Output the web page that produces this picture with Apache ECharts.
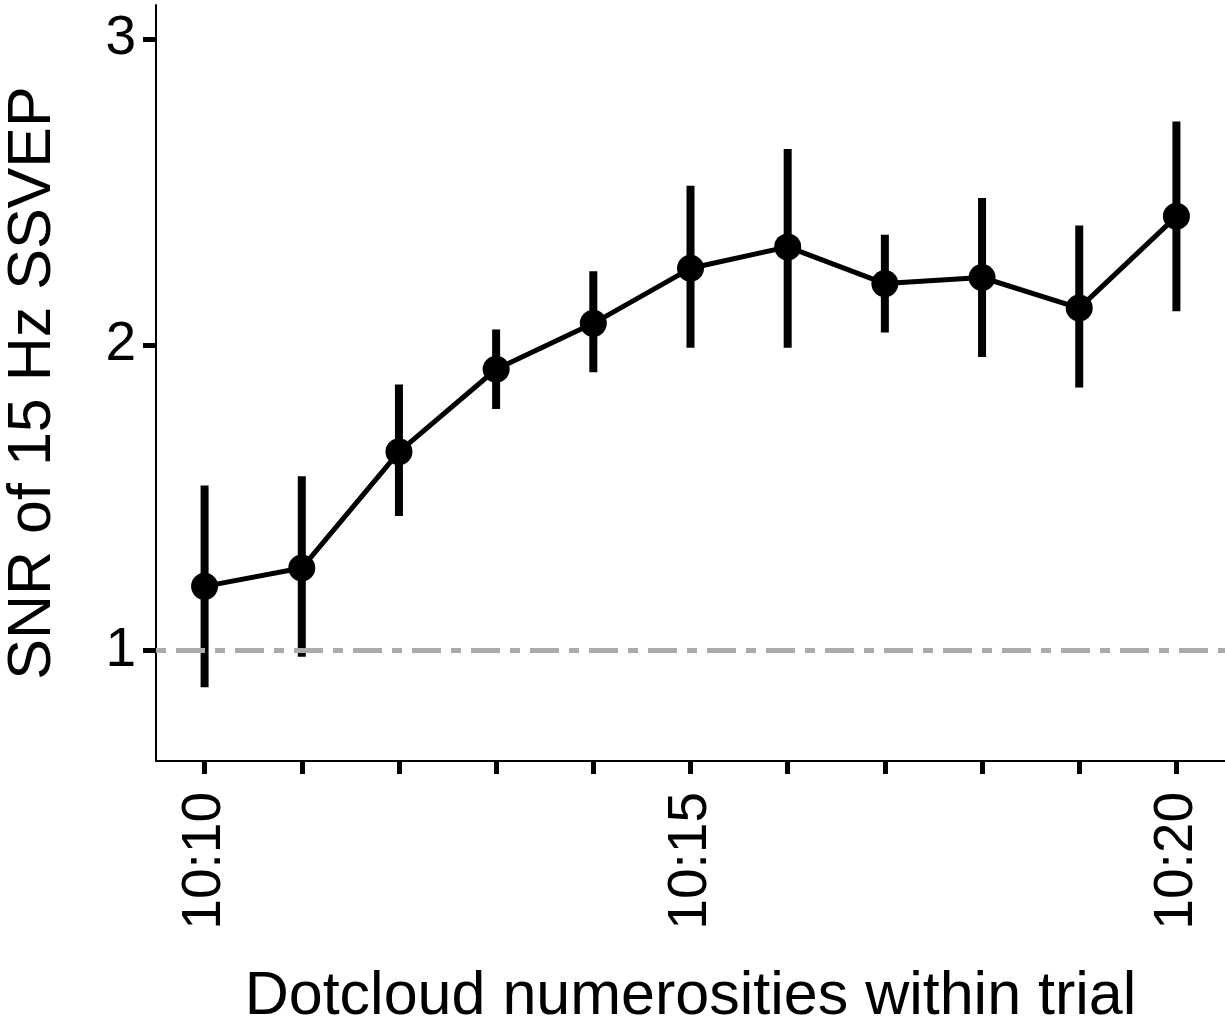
<!DOCTYPE html>
<html>
<head>
<meta charset="utf-8">
<script src="https://cdn.jsdelivr.net/npm/echarts@6/dist/echarts.min.js"></script>
<style>
  html, body { margin: 0; padding: 0; background: #fff; }
  #chart { width: 1225px; height: 1022px; }
</style>
</head>
<body>
<div id="chart"></div>
<script>
// numerosity ratios on the x axis
const categories = ['10:10', '10:11', '10:12', '10:13', '10:14', '10:15', '10:16', '10:17', '10:18', '10:19', '10:20']
// mean SNR and interval bounds
const snrMean = [1.21, 1.27, 1.65, 1.92, 2.07, 2.25, 2.32, 2.20, 2.22, 2.12, 2.42]
const snrLow = [0.88, 0.98, 1.44, 1.79, 1.91, 1.99, 1.99, 2.04, 1.96, 1.86, 2.11]
const snrHigh = [1.54, 1.57, 1.87, 2.05, 2.24, 2.52, 2.64, 2.36, 2.48, 2.39, 2.73]
const yTicks = [1, 2, 3]
const chanceLevel = 1

const font = 'Liberation Sans, Arial, Helvetica, sans-serif'
const chart = echarts.init(document.getElementById('chart'))

const option = {
  animation: false,
  backgroundColor: '#fff',
  grid: { left: 156, right: 0, top: 5, bottom: 261, containLabel: false, outerBoundsMode: 'none' },
  xAxis: {
    type: 'category',
    data: categories,
    boundaryGap: true,
    name: 'Dotcloud numerosities within trial',
    nameLocation: 'middle',
    nameGap: 206,
    nameTextStyle: { fontSize: 61, color: '#000', fontFamily: font },
    axisLine: { onZero: false, lineStyle: { color: '#000', width: 2 } },
    axisTick: { show: true, alignWithLabel: true, interval: 0, length: 13, lineStyle: { color: '#000', width: 5 } },
    axisLabel: {
      interval: (i) => i % 5 === 0,
      rotate: 90,
      margin: 31,
      fontSize: 55,
      color: '#000',
      fontFamily: font,
    },
    splitLine: { show: false },
  },
  yAxis: {
    type: 'value',
    min: 0.639,
    max: 3.111,
    name: 'SNR of 15 Hz SSVEP',
    nameLocation: 'middle',
    nameGap: 92,
    nameTextStyle: { fontSize: 61, color: '#000', fontFamily: font },
    axisLine: { show: true, lineStyle: { color: '#000', width: 2 } },
    axisTick: { show: true, customValues: yTicks, length: 13, lineStyle: { color: '#000', width: 5 } },
    axisLabel: { customValues: yTicks, margin: 20, fontSize: 55, color: '#000', fontFamily: font },
    splitLine: { show: false },
  },
  series: [
    {
      // dash-dot reference line at SNR = 1
      type: 'line',
      data: [],
      z: 1,
      markLine: {
        silent: true,
        symbol: 'none',
        label: { show: false },
        lineStyle: { color: '#ababab', width: 5, type: [29, 10, 10, 10], dashOffset: 39, cap: 'butt' },
        data: [{ yAxis: chanceLevel }],
      },
    },
    {
      type: 'custom',
      z: 2,
      data: categories.map((c, i) => [i, snrLow[i], snrHigh[i]]),
      encode: { x: 0, y: [1, 2] },
      renderItem(params, api) {
        const lo = api.coord([api.value(0), api.value(1)])
        const hi = api.coord([api.value(0), api.value(2)])
        return {
          type: 'line',
          shape: { x1: lo[0], y1: lo[1], x2: hi[0], y2: hi[1] },
          style: { stroke: '#000', lineWidth: 8 },
        }
      },
    },
    {
      type: 'line',
      z: 3,
      data: snrMean,
      symbol: 'circle',
      symbolSize: 27,
      showAllSymbol: true,
      itemStyle: { color: '#000' },
      lineStyle: { color: '#000', width: 5 },
    },
  ],
}

chart.setOption(option)
</script>
</body>
</html>
